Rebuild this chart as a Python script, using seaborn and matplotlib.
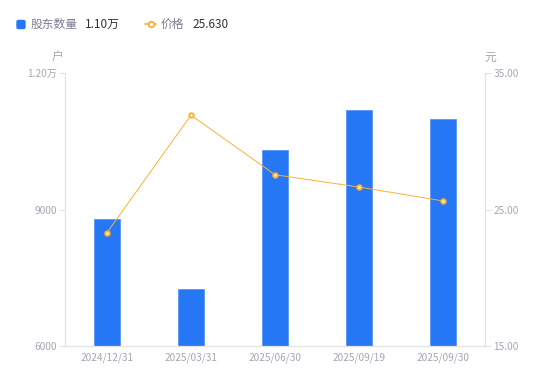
import matplotlib
matplotlib.use('Agg')
import matplotlib.pyplot as plt
import matplotlib.patches as mpatches
from matplotlib.lines import Line2D
import seaborn as sns

# data
dates = ['2024/12/31', '2025/03/31', '2025/06/30', '2025/09/19', '2025/09/30']
holders = [8800, 7250, 10300, 11200, 11000]
prices = [23.30, 31.92, 27.55, 26.65, 25.63]
left_ticks = [6000, 9000, 12000]
left_labels = ['6000', '9000', '1.20万']
right_ticks = [15, 25, 35]
right_labels = ['15.00', '25.00', '35.00']

sns.set_style('white')
plt.rcParams['font.family'] = ['Noto Sans CJK SC', 'DejaVu Sans']

bar_color = '#2677F5'
line_color = '#F7B336'
tick_color = '#A3A6B4'
axis_color = '#E3E3E6'

fig = plt.figure(figsize=(5.5, 3.81), dpi=100)
ax = fig.add_axes([0.118, 0.092, 0.764, 0.716])

sns.barplot(x=dates, y=holders, color=bar_color, width=0.3, saturation=1,
            edgecolor='#5A98F7', linewidth=0.6, ax=ax)
ax.set_ylim(6000, 12000)
ax.set_yticks(left_ticks)
ax.set_yticklabels(left_labels)
ax.set_xlim(-0.5, len(dates) - 0.5)

ax2 = ax.twinx()
sns.pointplot(x=dates, y=prices, color=line_color, markers='o',
              linewidth=0.7, markersize=3.2, ax=ax2, errorbar=None)
for ln in ax2.lines:
    ln.set_markerfacecolor('white')
    ln.set_markeredgecolor(line_color)
    ln.set_markeredgewidth(1.4)
ax2.set_ylim(15, 35)
ax2.set_yticks(right_ticks)
ax2.set_yticklabels(right_labels)
ax2.set_xlim(-0.5, len(dates) - 0.5)

for a in (ax, ax2):
    a.set_xlabel('')
    a.set_ylabel('')
    for s in a.spines.values():
        s.set_visible(False)
    a.grid(False)
ax.spines['left'].set_visible(True)
ax.spines['bottom'].set_visible(True)
ax2.spines['right'].set_visible(True)
for s in (ax.spines['left'], ax.spines['bottom'], ax2.spines['right']):
    s.set_color(axis_color)
    s.set_linewidth(0.9)

ax.tick_params(axis='y', labelsize=7.3, length=4, width=0.8, pad=2,
               left=True, color=axis_color, labelcolor=tick_color)
ax.tick_params(axis='x', labelsize=7.3, length=0, pad=5, labelcolor=tick_color)
ax2.tick_params(axis='y', labelsize=7.3, length=4, width=0.8, pad=2, right=True,
                color=axis_color, labelcolor=tick_color)

# unit labels
fig.text(58 / 550, 1 - 57 / 381, '户', fontsize=8.5, color=tick_color, ha='center', va='center')
fig.text(490 / 550, 1 - 57 / 381, '元', fontsize=8.5, color=tick_color, ha='center', va='center')

# legend
fig.patches.append(mpatches.FancyBboxPatch((17 / 550, 1 - 28.5 / 381), 8 / 550, 8 / 381,
                                           boxstyle='round,pad=0,rounding_size=0.003',
                                           transform=fig.transFigure, color=bar_color))
fig.text(31 / 550, 1 - 24 / 381, '股东数量', fontsize=8.5, color='#7A7D8C', va='center')
fig.text(85 / 550, 1 - 24 / 381, '1.10万', fontsize=8.5, color='#333333', va='center')
fig.add_artist(Line2D([145 / 550, 156 / 550], [1 - 24 / 381, 1 - 24 / 381],
                      transform=fig.transFigure, color=line_color, linewidth=1.2))
fig.add_artist(Line2D([150.5 / 550], [1 - 24 / 381], transform=fig.transFigure,
                      marker='o', markersize=4, markerfacecolor='white',
                      markeredgecolor=line_color, markeredgewidth=1.4))
fig.text(161 / 550, 1 - 24 / 381, '价格', fontsize=8.5, color='#7A7D8C', va='center')
fig.text(192 / 550, 1 - 24 / 381, '25.630', fontsize=8.5, color='#333333', va='center')

fig.savefig('out.png', dpi=100)
